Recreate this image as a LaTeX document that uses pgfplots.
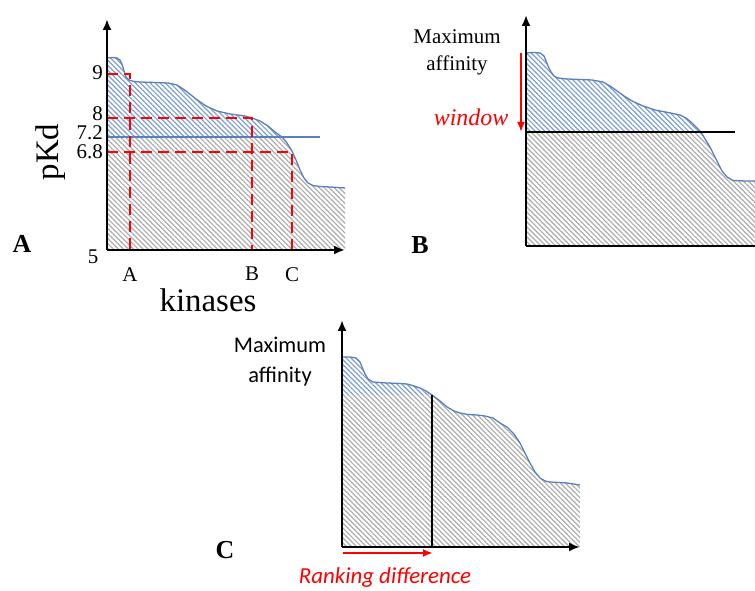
\documentclass[border=0pt]{standalone}
\usepackage{fontspec}
\setmainfont{Liberation Serif}
\newfontfamily\calibri{Carlito}
\usepackage{pgfplots}
\pgfplotsset{compat=1.18}
\usetikzlibrary{patterns.meta,arrows.meta}
\definecolor{curveblue}{RGB}{90,128,188}
\definecolor{hatchblue}{RGB}{125,158,212}
\definecolor{hatchgray}{RGB}{172,172,172}
\tikzset{
  bluehatch/.style={draw=none,pattern={Lines[angle=-45,distance=3.5bp,line width=1.2bp]},pattern color=hatchblue},
  grayhatch/.style={draw=none,pattern={Lines[angle=-45,distance=3.5bp,line width=1.2bp]},pattern color=hatchgray},
  reddash/.style={red,line width=2.6bp,dash pattern=on 11bp off 6bp},
  curve/.style={curveblue,line width=1.3bp,line join=round},
}
\pgfplotsset{schem/.style={
  x=1bp,y=1bp,anchor=south west,axis on top,
  axis lines=left,enlargelimits=false,xtick=\empty,ytick=\empty,
  major tick length=0pt,
  axis line style={black,line width=2.2bp},
  x axis line style={-{Latex[length=11bp,width=9bp]}},
  y axis line style={-{Latex[length=11bp,width=9bp]}},
  tick label style={font=\fontsize{21}{21}\selectfont},
}}
\begin{document}
\begin{tikzpicture}[x=1bp,y=1bp]
\path[use as bounding box] (0,0) rectangle (755,591);

% ---------------- Panel A ----------------
\begin{axis}[schem,at={(107bp,341bp)},
  xmin=107,xmax=345,ymin=341,ymax=572,
  xtick={130,252,292},xticklabels={A,B,C},
  ytick={436,455,474,515},yticklabels={6.8,7.2,8,9},
  xticklabel style={inner sep=0pt,anchor=north,yshift=-17bp},
  yticklabel style={inner sep=0pt,anchor=east,xshift=-4bp,text height=0.66em,text depth=0pt}]
% blue window region (curve above 7.2 line)
\addplot[bluehatch] coordinates {
(107,533) (112,533.5) (117,533) (120,531) (122,527) (124,520) (126,514) (129,511)
(134,509.5) (140,509) (155,508.5) (168,508) (177,506) (186,500) (196,492) (206,485)
(217,480) (230,477) (245,475) (252,473) (260,470) (268,465) (275,459) (282,454)
(107,454)};
% grey region
\addplot[grayhatch] coordinates {
(107,341) (107,454) (282,454)
(287,448) (292,440) (296,431) (300,421) (304,413) (308,408) (313,405.5) (320,404.5)
(330,404) (345,403) (345,341)};
% curve
\addplot[curve] coordinates {
(107,533) (112,533.5) (117,533) (120,531) (122,527) (124,520) (126,514) (129,511)
(134,509.5) (140,509) (155,508.5) (168,508) (177,506) (186,500) (196,492) (206,485)
(217,480) (230,477) (245,475) (252,473) (260,470) (268,465) (275,459) (282,454)
(287,448) (292,440) (296,431) (300,421) (304,413) (308,408) (313,405.5) (320,404.5)
(330,404) (345,403)};
\addplot[curveblue,line width=1.2bp] coordinates {(107,454) (320,454)};
\addplot[reddash] coordinates {(107,517) (130,517) (130,341)};
\addplot[reddash] coordinates {(107,473) (252,473) (252,341)};
\addplot[reddash] coordinates {(107,439) (292,439) (292,341)};
\end{axis}
\node[font=\fontsize{21}{21}\selectfont] at (93,334) {5};
\node[font=\fontsize{33}{33}\selectfont,anchor=base] at (208,279) {kinases};
\node[font=\fontsize{33}{33}\selectfont,rotate=90] at (51,439) {pKd};
\node[font=\fontsize{26}{26}\selectfont\bfseries] at (22,347) {A};

% ---------------- Panel B ----------------
\begin{axis}[schem,at={(526bp,345bp)},
  xmin=526,xmax=755,ymin=345,ymax=576,
  x axis line style={-}]
\addplot[bluehatch] coordinates {
(526,538) (534,538.5) (540,538) (544,535) (546,530) (548,525) (551,519) (554,515)
(558,513) (567,512) (580,511.5) (592,511) (603,509) (610,505) (617,500) (624,495)
(632,490) (643,485) (655,481) (668,478.5) (680,476) (686,473) (692,468) (697,463)
(701,459) (526,459)};
\addplot[grayhatch] coordinates {
(526,345) (526,459) (701,459)
(705,452) (710,444) (714,436) (718,428) (722,420) (727,414) (733,410.5)
(745,410) (755,410) (755,345)};
\addplot[curve] coordinates {
(526,538) (534,538.5) (540,538) (544,535) (546,530) (548,525) (551,519) (554,515)
(558,513) (567,512) (580,511.5) (592,511) (603,509) (610,505) (617,500) (624,495)
(632,490) (643,485) (655,481) (668,478.5) (680,476) (686,473) (692,468) (697,463)
(701,459) (705,452) (710,444) (714,436) (718,428) (722,420) (727,414) (733,410.5)
(745,410) (755,410)};
\addplot[black,line width=1.1bp] coordinates {(526,459) (735,459)};
\end{axis}
\draw[red,line width=1.8bp,-{Latex[length=10bp,width=8bp]}] (521,538) -- (521,459);
\node[font=\fontsize{21}{27}\selectfont,align=center] at (457,539) {Maximum\\affinity};
\node[font=\fontsize{24}{24}\selectfont\itshape,text=red] at (471,474) {window};
\node[font=\fontsize{26}{26}\selectfont\bfseries] at (420,346) {B};

% ---------------- Panel C ----------------
\begin{axis}[schem,at={(342bp,44bp)},
  xmin=342,xmax=580,ymin=44,ymax=271]
\addplot[bluehatch] coordinates {
(342,234) (350,234) (356,233) (360,229) (362,224) (365,217) (368,212) (373,209)
(387,208) (400,207.5) (407,207) (414,205) (420,203) (426,200) (432,196) (342,196)};
\addplot[grayhatch] coordinates {
(342,44) (342,196) (432,196) (440,190)
(447,184) (454,180) (460,178) (468,176.5) (477,176) (485,175) (493,173) (500,168)
(507,164) (514,157) (520,148) (525,138) (530,128) (535,119) (540,113) (545,110)
(550,109) (567,108) (580,106) (580,44)};
\addplot[curve] coordinates {
(342,234) (350,234) (356,233) (360,229) (362,224) (365,217) (368,212) (373,209)
(387,208) (400,207.5) (407,207) (414,205) (420,203) (426,200) (432,196) (440,190)
(447,184) (454,180) (460,178) (468,176.5) (477,176) (485,175) (493,173) (500,168)
(507,164) (514,157) (520,148) (525,138) (530,128) (535,119) (540,113) (545,110)
(550,109) (567,108) (580,106)};
\addplot[black,line width=1.2bp] coordinates {(432,196) (432,44)};
\end{axis}
\draw[red,line width=2bp,-{Latex[length=10bp,width=8bp]}] (343,38) -- (433,38);
\node[font=\calibri\fontsize{22.5}{30}\selectfont,align=center] at (280,229) {Maximum\\affinity};
\node[font=\calibri\fontsize{23}{23}\selectfont\itshape,text=red] at (385,13) {Ranking difference};
\node[font=\fontsize{26}{26}\selectfont\bfseries] at (225,41) {C};
\end{tikzpicture}
\end{document}
